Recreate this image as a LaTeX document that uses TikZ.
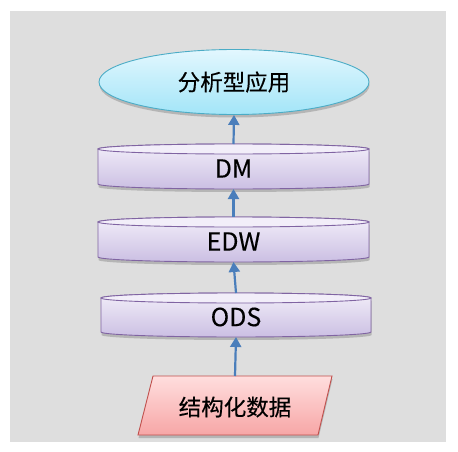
\documentclass[tikz,border=0pt]{standalone}
\usepackage{fontspec}
\setmainfont{Noto Sans CJK SC}
\newfontfamily\lblfont{Noto Sans CJK SC}[FakeBold=0.3]
\usetikzlibrary{shapes.geometric,shadows,arrows.meta}
\definecolor{bgray}{HTML}{DEDEDE}
\definecolor{arrblue}{HTML}{4A7EBB}
\definecolor{elltop}{HTML}{E2F7FE}
\definecolor{ellbot}{HTML}{A3E5F8}
\definecolor{elledge}{HTML}{4BACC6}
\definecolor{cyltop}{HTML}{F2EEF9}
\definecolor{cylbot}{HTML}{CBBFE3}
\definecolor{cyledge}{HTML}{8064A2}
\definecolor{partop}{HTML}{FFDEDE}
\definecolor{parbot}{HTML}{F7A6A6}
\definecolor{paredge}{HTML}{C0504D}
\tikzset{
  arr/.style={draw=arrblue, line width=2.2pt, -{Triangle[length=10pt,width=11pt]}},
  softshadow/.style={drop shadow={shadow xshift=0.5pt, shadow yshift=-3pt, opacity=0.28, fill=black!70}},
  lbl/.style={font=\lblfont\fontsize{22.5}{26}\selectfont, text=black, inner sep=0pt},
  latlbl/.style={font=\lblfont\fontsize{25}{28}\selectfont, text=black, inner sep=0pt},
  cylbody/.style={top color=cyltop, bottom color=cylbot, draw=cyledge, line width=0.9pt, softshadow},
  cylcap/.style={fill=cyltop, draw=cyledge, line width=0.9pt},
}
% cylinder: name, center x, top y, half width, body height (between ellipse centres), label
\newcommand{\mycyl}[6]{%
  \draw[cylbody] ({#2-#4},{#3+5}) -- ({#2-#4},{#3+5+#5}) arc (180:0:{#4} and 5) -- ({#2+#4},{#3+5}) arc (360:180:{#4} and 5) -- cycle;
  \draw[cylcap] (#2,{#3+5}) ellipse ({#4} and 5);
  \coordinate (#1top) at (#2,#3);
  \coordinate (#1bot) at (#2,{#3+10+#5});
  \node[latlbl] (#1) at (#2,{#3+5+#5/2+2}) {#6};
}
\begin{document}
\begin{tikzpicture}[x=1pt,y=-1pt]
\useasboundingbox (0,0) rectangle (458,452);
\fill[white] (0,0) rectangle (458,452);
\fill[bgray] (10,11) rectangle (446,442);

% top ellipse
\node[ellipse, minimum width=270pt, minimum height=65pt, top color=elltop, bottom color=ellbot,
      draw=elledge, line width=0.9pt, softshadow, lbl] (app) at (234,82) {分析型应用};

\mycyl{dm}{233.5}{144}{135.5}{35}{DM}
\mycyl{edw}{233.5}{217}{135.5}{35}{EDW}
\mycyl{ods}{236}{293}{135}{34}{ODS}

% parallelogram
\coordinate (pa) at (153,376);
\coordinate (pb) at (332,376);
\coordinate (pc) at (318,435);
\coordinate (pd) at (138,435);
\draw[top color=partop, bottom color=parbot, draw=paredge, line width=0.9pt, softshadow]
  (pa) -- (pb) -- (pc) -- (pd) -- cycle;
\node[lbl] (src) at (235,407) {结构化数据};
\coordinate (srctop) at (235,376);

% arrows
\draw[arr] (srctop) -- (odsbot);
\draw[arr] (odstop) -- (edwbot);
\draw[arr] (edwtop) -- (dmbot);
\draw[arr] (dmtop) -- (app.south);
\end{tikzpicture}
\end{document}
